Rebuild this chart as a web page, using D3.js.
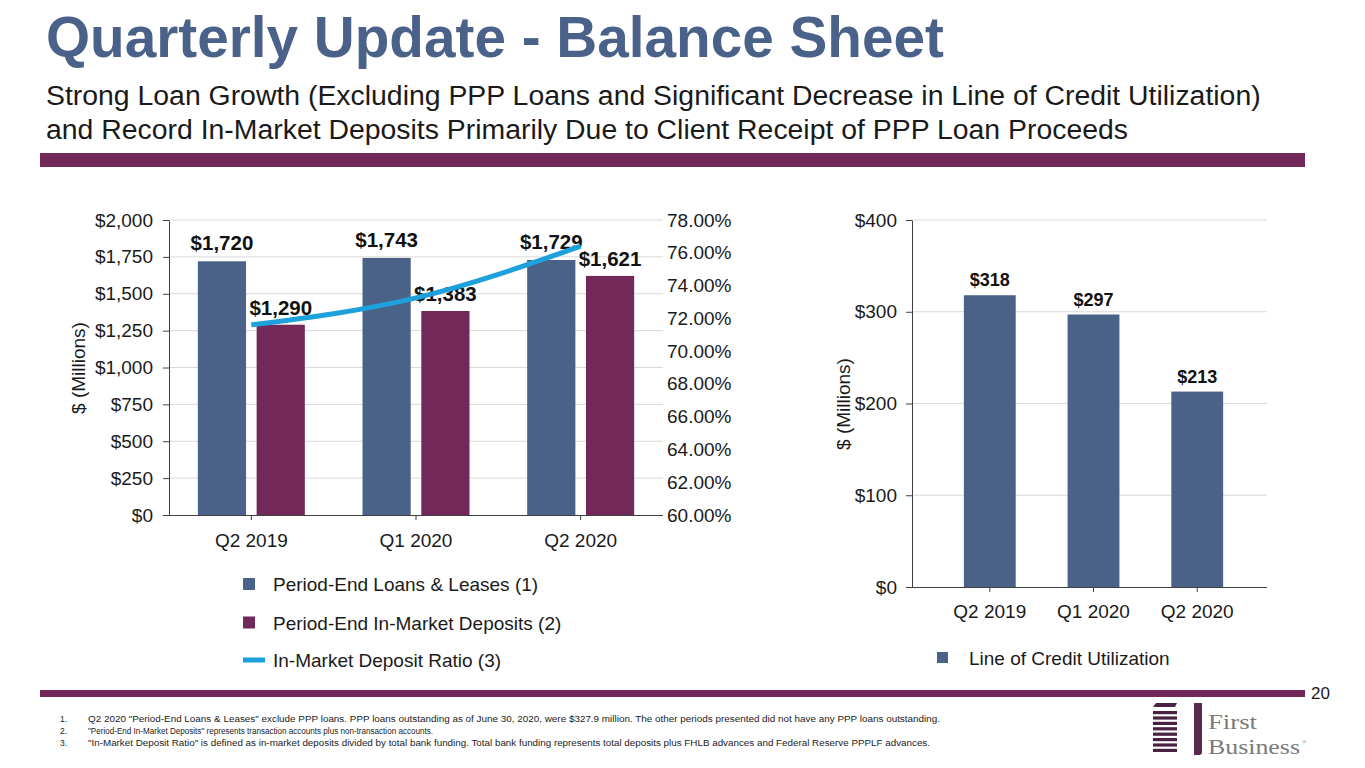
<!DOCTYPE html>
<html><head><meta charset="utf-8">
<script src="https://cdn.jsdelivr.net/npm/d3@7"></script>
<style>
html,body{margin:0;padding:0;background:#fff;}
svg{display:block;font-family:"Liberation Sans",Arial,sans-serif;}
</style></head>
<body>
<svg id="c" width="1365" height="768"></svg>
<script>
// ---- data ----
const categories = ["Q2 2019", "Q1 2020", "Q2 2020"];
const loans = [1720, 1743, 1729];
const deposits = [1290, 1383, 1621];
const depositRatio = [71.6, 73.25, 76.4];
const locUtilization = [318, 297, 213];
const leftTicks = [0, 250, 500, 750, 1000, 1250, 1500, 1750, 2000];
const ratioTicks = [60, 62, 64, 66, 68, 70, 72, 74, 76, 78];
const locTicks = [0, 100, 200, 300, 400];
const legendLeft = ["Period-End Loans & Leases (1)", "Period-End In-Market Deposits (2)", "In-Market Deposit Ratio (3)"];
const legendRight = ["Line of Credit Utilization"];
const footnotes = [
  "Q2 2020 \"Period-End Loans & Leases\" exclude PPP loans. PPP loans outstanding as of June 30, 2020, were $327.9 million. The other periods presented did not have any PPP loans outstanding.",
  "\"Period-End In-Market Deposits\" represents transaction accounts plus non-transaction accounts.",
  "\"In-Market Deposit Ratio\" is defined as in-market deposits divided by total bank funding. Total bank funding represents total deposits plus FHLB advances and Federal Reserve PPPLF advances."
];

const C_BLUE = "#4a6288", C_PURPLE = "#722858", C_LINE = "#1ea0da", C_TITLE = "#4a6189";
const GRID = "#d9d9d9", AXIS = "#404040";
const TICK_FS = 19, LEG_FS = 19;

const svg = d3.select("#c");

// ---- header ----
svg.append("text").attr("x", 46).attr("y", 57).attr("font-size", 56.7).attr("font-weight", "bold")
  .attr("fill", C_TITLE).text("Quarterly Update - Balance Sheet");
svg.append("text").attr("x", 46).attr("y", 105).attr("font-size", 28.4).attr("fill", "#1a1a1a")
  .text("Strong Loan Growth (Excluding PPP Loans and Significant Decrease in Line of Credit Utilization)");
svg.append("text").attr("x", 46).attr("y", 139).attr("font-size", 28.4).attr("fill", "#1a1a1a")
  .text("and Record In-Market Deposits Primarily Due to Client Receipt of PPP Loan Proceeds");
svg.append("rect").attr("x", 40).attr("y", 153).attr("width", 1265).attr("height", 14).attr("fill", C_PURPLE);

// ---- left chart ----
const L = {x0: 169, x1: 663, y0: 515, y1: 220};
const xL = d3.scaleBand().domain(categories).range([L.x0, L.x1]);
const xIn = d3.scaleBand().domain(["loans", "deposits"]).range([-53.5, 53.5]).paddingInner(0.18);
const yL = d3.scaleLinear().domain([0, 2000]).range([L.y0, L.y1]);
const yR = d3.scaleLinear().domain([60, 78]).range([L.y0, L.y1]);

const gL = svg.append("g");
gL.append("g").selectAll("line").data(leftTicks.filter(d => d > 0)).join("line")
  .attr("x1", L.x0).attr("x2", L.x1).attr("y1", d => yL(d)).attr("y2", d => yL(d))
  .attr("stroke", GRID).attr("stroke-width", 1);

const groups = gL.append("g").selectAll("g").data(categories).join("g")
  .attr("transform", d => `translate(${xL(d) + xL.bandwidth() / 2},0)`);
groups.append("rect").attr("x", xIn("loans")).attr("width", xIn.bandwidth())
  .attr("y", (d, i) => yL(loans[i])).attr("height", (d, i) => yL(0) - yL(loans[i])).attr("fill", C_BLUE);
groups.append("rect").attr("x", xIn("deposits")).attr("width", xIn.bandwidth())
  .attr("y", (d, i) => yL(deposits[i])).attr("height", (d, i) => yL(0) - yL(deposits[i])).attr("fill", C_PURPLE);

const axL = gL.append("g").attr("transform", `translate(${L.x0},0)`)
  .call(d3.axisLeft(yL).tickValues(leftTicks).tickSize(6).tickSizeOuter(0).tickPadding(10)
    .tickFormat(d => "$" + d3.format(",")(d)));
axL.selectAll("text").attr("font-size", TICK_FS).attr("fill", "#1a1a1a").attr("font-family", "Liberation Sans, Arial");
axL.selectAll("line").attr("stroke", AXIS);
axL.select(".domain").attr("stroke", AXIS);

const axR = gL.append("g").attr("transform", `translate(${L.x1},0)`)
  .call(d3.axisRight(yR).tickValues(ratioTicks).tickSize(0).tickPadding(4).tickFormat(d => d.toFixed(2) + "%"));
axR.select(".domain").remove();
axR.selectAll("text").attr("font-size", TICK_FS).attr("fill", "#1a1a1a").attr("font-family", "Liberation Sans, Arial");

const axB = gL.append("g").attr("transform", `translate(0,${L.y0})`)
  .call(d3.axisBottom(xL).tickSize(5).tickSizeOuter(0).tickPadding(14));
axB.select(".domain").attr("stroke", AXIS).attr("d", `M${L.x0 - 5},0.5H${L.x1}`);
axB.selectAll("line").attr("stroke", AXIS);
axB.selectAll("text").attr("font-size", TICK_FS).attr("fill", "#1a1a1a").attr("font-family", "Liberation Sans, Arial");

const line = d3.line().x((d, i) => xL(categories[i]) + xL.bandwidth() / 2).y(d => yR(d)).curve(d3.curveMonotoneX);
gL.append("path").datum(depositRatio).attr("d", line).attr("fill", "none")
  .attr("stroke", C_LINE).attr("stroke-width", 5);

groups.append("text").attr("text-anchor", "middle").attr("x", xIn("loans") + xIn.bandwidth() / 2)
  .attr("y", (d, i) => yL(loans[i]) - 11).attr("font-size", 20.5).attr("font-weight", "bold").attr("fill", "#111")
  .text((d, i) => "$" + d3.format(",")(loans[i]));
groups.append("text").attr("text-anchor", "middle").attr("x", xIn("deposits") + xIn.bandwidth() / 2)
  .attr("y", (d, i) => yL(deposits[i]) - 10).attr("font-size", 20.5).attr("font-weight", "bold").attr("fill", "#111")
  .text((d, i) => "$" + d3.format(",")(deposits[i]));

svg.append("text").attr("transform", "translate(85,368) rotate(-90)").attr("text-anchor", "middle")
  .attr("font-size", 19).attr("fill", "#1a1a1a").text("$ (Millions)");

const lg = svg.append("g").selectAll("g").data(legendLeft).join("g")
  .attr("transform", (d, i) => `translate(0,${584 + i * 38.5})`);
lg.each(function (d, i) {
  const g = d3.select(this);
  if (i < 2) g.append("rect").attr("x", 243).attr("y", -6).attr("width", 12).attr("height", 12).attr("fill", i === 0 ? C_BLUE : C_PURPLE);
  else g.append("line").attr("x1", 243).attr("x2", 265).attr("y1", -1).attr("y2", -1).attr("stroke", C_LINE).attr("stroke-width", 5);
});
lg.append("text").attr("x", 273).attr("y", (d, i) => i === 2 ? 6 : 7).attr("font-size", LEG_FS).attr("fill", "#1a1a1a").text(d => d);

// ---- right chart ----
const R = {x0: 912, x1: 1275, y0: 587, y1: 220};
const xRc = d3.scaleBand().domain(categories).range([R.x0, R.x1]).padding(0.5);
const yRc = d3.scaleLinear().domain([0, 400]).range([R.y0, R.y1]);
const gR = svg.append("g");
gR.append("g").selectAll("line").data(locTicks.filter(d => d > 0)).join("line")
  .attr("x1", R.x0).attr("x2", R.x1 - 8).attr("y1", d => yRc(d)).attr("y2", d => yRc(d))
  .attr("stroke", GRID);
gR.append("g").selectAll("rect").data(locUtilization).join("rect")
  .attr("x", (d, i) => xRc(categories[i])).attr("width", xRc.bandwidth())
  .attr("y", d => yRc(d)).attr("height", d => yRc(0) - yRc(d)).attr("fill", C_BLUE);
gR.append("g").selectAll("text").data(locUtilization).join("text")
  .attr("text-anchor", "middle").attr("x", (d, i) => xRc(categories[i]) + xRc.bandwidth() / 2)
  .attr("y", d => yRc(d) - 9).attr("font-size", 18).attr("font-weight", "bold").attr("fill", "#111")
  .text(d => "$" + d);
const ay2 = gR.append("g").attr("transform", `translate(${R.x0},0)`)
  .call(d3.axisLeft(yRc).tickValues(locTicks).tickSize(6).tickSizeOuter(0).tickPadding(9).tickFormat(d => "$" + d));
ay2.selectAll("text").attr("font-size", TICK_FS).attr("fill", "#1a1a1a").attr("font-family", "Liberation Sans, Arial");
ay2.selectAll("line").attr("stroke", AXIS);
ay2.select(".domain").attr("stroke", AXIS);
const ax2 = gR.append("g").attr("transform", `translate(0,${R.y0})`)
  .call(d3.axisBottom(xRc).tickSize(5).tickSizeOuter(0).tickPadding(13));
ax2.select(".domain").attr("stroke", AXIS).attr("d", `M${R.x0 - 5},0.5H${R.x1 - 8}`);
ax2.selectAll("line").attr("stroke", AXIS);
ax2.selectAll("text").attr("font-size", TICK_FS).attr("fill", "#1a1a1a").attr("font-family", "Liberation Sans, Arial");
svg.append("text").attr("transform", "translate(850,404) rotate(-90)").attr("text-anchor", "middle")
  .attr("font-size", 19).attr("fill", "#1a1a1a").text("$ (Millions)");
const lg2 = svg.append("g").selectAll("g").data(legendRight).join("g").attr("transform", "translate(0,658)");
lg2.append("rect").attr("x", 937).attr("y", -6).attr("width", 11).attr("height", 11).attr("fill", C_BLUE);
lg2.append("text").attr("x", 969).attr("y", 7).attr("font-size", LEG_FS).attr("fill", "#1a1a1a").text(d => d);

// ---- footer ----
svg.append("rect").attr("x", 40).attr("y", 690).attr("width", 1265).attr("height", 7).attr("fill", C_PURPLE);
svg.append("text").attr("x", 1311).attr("y", 699).attr("font-size", 17).attr("font-family", "Liberation Sans Narrow, Liberation Sans").attr("fill", "#1a1a1a").text("20");
const fnLens = [852, 345, 842];
const fn = svg.append("g").selectAll("g").data(footnotes).join("g")
  .attr("transform", (d, i) => `translate(0,${722 + i * 12})`);
fn.append("text").attr("x", 60).attr("font-size", 8.5).attr("fill", "#222").text((d, i) => (i + 1) + ".");
fn.append("text").attr("x", 88).attr("font-size", 8.5).attr("fill", "#222")
  .attr("font-family", "Liberation Sans Narrow, Liberation Sans")
  .attr("textLength", (d, i) => fnLens[i]).attr("lengthAdjust", "spacingAndGlyphs").text(d => d);

// logo
const logo = svg.append("g");
logo.append("path").attr("d", "M1153,707 L1175,707 L1177,703 L1156,703 Z").attr("fill", "#4a2244");
d3.range(8).forEach(k => {
  logo.append("rect").attr("x", 1153).attr("y", 711 + k * 5.4).attr("width", 24).attr("height", 3.2).attr("fill", "#4a2244");
});
logo.append("path").attr("d", "M1194,703 L1202,703 L1202,752 Q1202,755 1199,755 L1194,755 Z").attr("fill", "#5a2a4e");
logo.append("text").attr("x", 1208).attr("y", 729).attr("font-size", 22).attr("font-family", "Liberation Serif, serif").attr("fill", "#7a7a7a")
  .attr("textLength", 49).attr("lengthAdjust", "spacingAndGlyphs").text("First");
logo.append("text").attr("x", 1208).attr("y", 754).attr("font-size", 22).attr("font-family", "Liberation Serif, serif").attr("fill", "#7a7a7a")
  .attr("textLength", 92).attr("lengthAdjust", "spacingAndGlyphs").text("Business");
logo.append("text").attr("x", 1302).attr("y", 744).attr("font-size", 6).attr("font-family", "Liberation Serif, serif").attr("fill", "#7a7a7a").text("®");
</script>
</body></html>
